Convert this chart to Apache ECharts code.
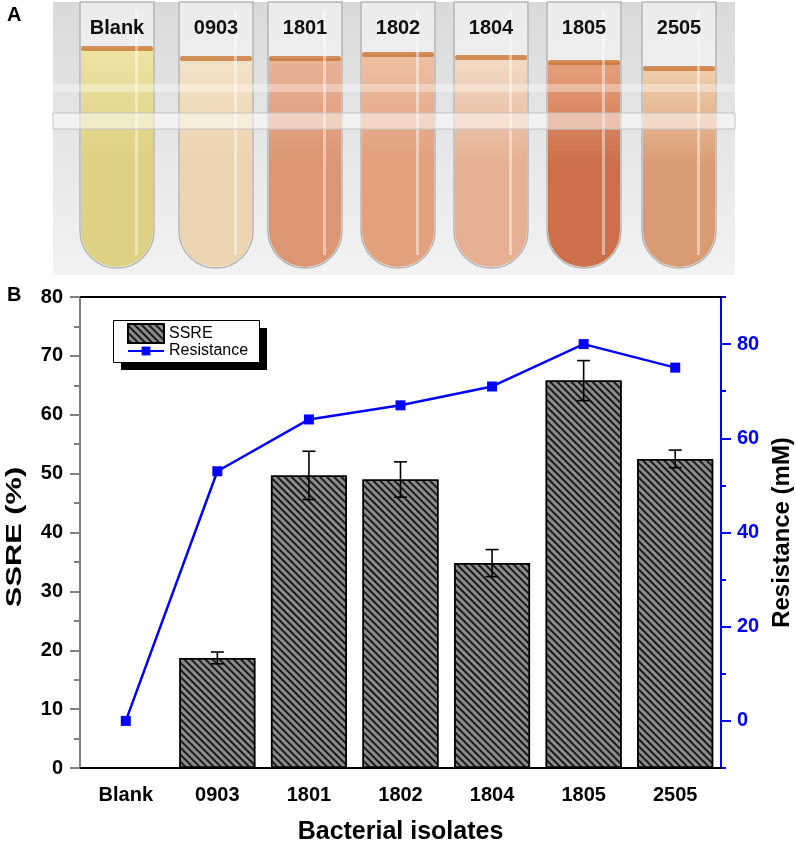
<!DOCTYPE html>
<html>
<head>
<meta charset="utf-8">
<script src="https://cdn.jsdelivr.net/npm/echarts@6/dist/echarts.min.js"></script>
<style>
html, body { margin: 0; padding: 0; background: #fff; }
#chart { width: 796px; height: 845px; }
</style>
</head>
<body>
<div id="chart"></div>
<script>
// 数据
var categories = ['Blank', '0903', '1801', '1802', '1804', '1805', '2505'];
var ssre = [null, 18.7, 49.7, 49.0, 34.8, 65.8, 52.5];
var ssreErr = [null, 1.0, 4.1, 3.0, 2.3, 3.4, 1.5];
var resistance = [0, 53, 64, 67, 71, 80, 75];
var rightTicks = [0, 20, 40, 60, 80];

var FONT = '"Liberation Sans", Arial, sans-serif';

// 试管照片 (A) 的示意
var tubes = [
    { name: 'Blank', cx: 117, top: 48, c1: '#ece3a6', c2: '#ddd283' },
    { name: '0903', cx: 216, top: 58, c1: '#f3e2c6', c2: '#ecd4b0' },
    { name: '1801', cx: 305, top: 58, c1: '#e8b396', c2: '#dc9673' },
    { name: '1802', cx: 398, top: 54, c1: '#eec0a3', c2: '#e2a07c' },
    { name: '1804', cx: 491, top: 57, c1: '#f2dcc6', c2: '#e6b193' },
    { name: '1805', cx: 584, top: 62, c1: '#e5a17c', c2: '#cc6f4a' },
    { name: '2505', cx: 679, top: 68, c1: '#f0cfae', c2: '#d99b73' }
];

function photo_graphics() {
    var g = [];
    g.push({
        type: 'rect', shape: { x: 53, y: 2, width: 682, height: 273 },
        style: { fill: { type: 'linear', x: 0, y: 0, x2: 0, y2: 1,
            colorStops: [{ offset: 0, color: '#dadada' }, { offset: 0.5, color: '#e6e6e6' }, { offset: 1, color: '#f2f2f2' }] } },
        z: 0
    });
    tubes.forEach(function(t) {
        var x = t.cx - 37, w = 74;
        g.push({ type: 'rect', shape: { x: x, y: 2, width: w, height: 266, r: [0, 0, 37, 37] },
            style: { fill: 'rgba(250,250,250,0.55)', stroke: '#b5b5b5', lineWidth: 1.5 }, z: 1 });
        g.push({ type: 'rect', shape: { x: x + 1, y: t.top, width: w - 2, height: 267 - t.top, r: [0, 0, 36, 36] },
            style: { fill: { type: 'linear', x: 0, y: 0, x2: 0, y2: 1,
                colorStops: [{ offset: 0, color: t.c1 }, { offset: 0.5, color: t.c2 }, { offset: 1, color: t.c2 }] } }, z: 2 });
        g.push({ type: 'rect', shape: { x: x + 1, y: t.top - 2, width: w - 2, height: 5, r: 2 },
            style: { fill: '#c8702e', opacity: 0.75 }, z: 3 });
        g.push({ type: 'rect', shape: { x: t.cx + 18, y: 10, width: 3, height: 245 },
            style: { fill: '#ffffff', opacity: 0.45 }, z: 3 });
        g.push({ type: 'text', style: { text: t.name, x: t.cx, y: 18, fill: '#111', font: 'bold 20px ' + FONT, align: 'center' }, z: 6 });
    });
    // 试管架
    g.push({ type: 'rect', shape: { x: 53, y: 113, width: 682, height: 16 },
        style: { fill: 'rgba(255,255,255,0.5)', stroke: '#c4c4c4', lineWidth: 1 }, z: 4 });
    g.push({ type: 'rect', shape: { x: 53, y: 84, width: 682, height: 8 },
        style: { fill: 'rgba(255,255,255,0.35)' }, z: 4 });
    g.push({ type: 'text', style: { text: 'A', x: 7, y: 5, fill: '#000', font: 'bold 20px ' + FONT }, z: 6 });
    g.push({ type: 'text', style: { text: 'B', x: 7, y: 285, fill: '#000', font: 'bold 20px ' + FONT }, z: 6 });
    // 左轴标题
    g.push({ type: 'text', x: 15, y: 537, rotation: Math.PI / 2, scaleX: 1.4,
        style: { text: 'SSRE (%)', fill: '#000', font: 'bold 22px ' + FONT, align: 'center', verticalAlign: 'middle' }, z: 6 });
    // 图例框和阴影
    g.push({ type: 'rect', shape: { x: 121, y: 328, width: 146, height: 42 }, style: { fill: '#000' }, z: 1 });
    g.push({ type: 'rect', shape: { x: 113.5, y: 320.5, width: 146, height: 42 },
        style: { fill: '#fff', stroke: '#000', lineWidth: 1 }, z: 2 });
    return g;
}

function err_item(params, api) {
    var v = api.value(1);
    if (v == null || isNaN(v)) return;
    var e = api.value(2);
    var hi = api.coord([api.value(0), v + e]);
    var lo = api.coord([api.value(0), v - e]);
    var w = 6.5;
    var st = { stroke: '#000', lineWidth: 1.6 };
    return {
        type: 'group',
        children: [
            { type: 'line', shape: { x1: hi[0], y1: hi[1], x2: lo[0], y2: lo[1] }, style: st },
            { type: 'line', shape: { x1: hi[0] - w, y1: hi[1], x2: hi[0] + w, y2: hi[1] }, style: st },
            { type: 'line', shape: { x1: lo[0] - w, y1: lo[1], x2: lo[0] + w, y2: lo[1] }, style: st }
        ]
    };
}

var labelStyle = { color: '#000', fontSize: 20, fontWeight: 'bold', fontFamily: FONT };
var blackLine = { color: '#000', width: 2 };
var grayLine = { color: '#808080', width: 2 };
var blueLine = { color: '#0000ff', width: 2 };
var legendText = { color: '#000', fontSize: 16, fontFamily: FONT };

var chart = echarts.init(document.getElementById('chart'));
var option = {
    animation: false,
    textStyle: { fontFamily: FONT },
    graphic: photo_graphics(),
    grid: { left: 80, right: 75, top: 297, bottom: 77, containLabel: false, outerBoundsMode: 'none' },
    legend: [{
        left: 127,
        top: 323,
        padding: 0,
        itemWidth: 36,
        itemHeight: 19,
        textStyle: legendText,
        data: [{ name: 'SSRE', icon: 'rect' }]
    }, {
        left: 127,
        top: 343,
        padding: 0,
        itemWidth: 36,
        itemHeight: 11,
        textStyle: legendText,
        data: ['Resistance']
    }],
    xAxis: [{
        type: 'category',
        data: categories,
        position: 'bottom',
        axisLine: { onZero: false, lineStyle: blackLine },
        axisTick: { alignWithLabel: true, interval: 0, length: 9, lineStyle: blackLine },
        axisLabel: Object.assign({ margin: 17, interval: 0 }, labelStyle),
        name: 'Bacterial isolates',
        nameLocation: 'middle',
        nameGap: 52,
        nameTextStyle: { color: '#000', fontSize: 25, fontWeight: 'bold', fontFamily: FONT }
    }, {
        type: 'category',
        data: categories,
        position: 'bottom',
        axisLine: { show: false, onZero: false },
        axisTick: { interval: 0, length: 5, lineStyle: blackLine },
        axisLabel: { show: false }
    }, {
        type: 'category',
        data: categories,
        position: 'top',
        axisLine: { onZero: false, lineStyle: blackLine },
        axisTick: { inside: true, alignWithLabel: true, interval: 0, length: 8, lineStyle: blackLine },
        axisLabel: { show: false }
    }, {
        type: 'category',
        data: categories,
        position: 'top',
        axisLine: { show: false, onZero: false },
        axisTick: { inside: true, interval: 0, length: 5, lineStyle: blackLine },
        axisLabel: { show: false }
    }],
    yAxis: [{
        type: 'value',
        min: 0,
        max: 80,
        interval: 10,
        position: 'left',
        axisLine: { show: true, lineStyle: grayLine },
        axisTick: { show: true, length: 10, lineStyle: grayLine },
        minorTick: { show: true, splitNumber: 2, length: 6, lineStyle: grayLine },
        splitLine: { show: false },
        axisLabel: Object.assign({ margin: 17 }, labelStyle)
    }, {
        type: 'value',
        min: -10,
        max: 90,
        interval: 10,
        position: 'right',
        axisLine: { show: true, lineStyle: blueLine },
        axisTick: { show: true, length: 5, lineStyle: blueLine },
        splitLine: { show: false },
        axisLabel: { show: false }
    }, {
        type: 'value',
        min: -10,
        max: 90,
        interval: 10,
        position: 'right',
        axisLine: { show: true, lineStyle: blueLine },
        axisTick: { show: true, length: 10, customValues: rightTicks, lineStyle: blueLine },
        splitLine: { show: false },
        axisLabel: { margin: 16, customValues: rightTicks, color: '#0000ff', fontSize: 20, fontWeight: 'bold', fontFamily: FONT },
        name: 'Resistance (mM)',
        nameLocation: 'middle',
        nameRotate: 90,
        nameGap: 49,
        nameTextStyle: { color: '#000', fontSize: 24, fontWeight: 'bold', fontFamily: FONT }
    }],
    series: [{
        name: 'SSRE',
        type: 'bar',
        data: ssre,
        barCategoryGap: '17%',
        itemStyle: {
            color: '#8c8c8c',
            borderColor: '#000',
            borderWidth: 1.5,
            decal: {
                symbol: 'rect',
                symbolSize: 1,
                dashArrayX: [1, 0],
                dashArrayY: [1.2, 2.8],
                rotation: Math.PI / 4,
                color: '#1a1a1a'
            }
        },
        z: 2
    }, {
        name: 'SSRE err',
        type: 'custom',
        renderItem: err_item,
        encode: { x: 0, y: 1 },
        data: categories.map(function(c, i) { return [i, ssre[i], ssreErr[i]]; }),
        z: 3
    }, {
        name: 'Resistance',
        type: 'line',
        yAxisIndex: 2,
        data: resistance,
        color: '#0000ff',
        symbol: 'rect',
        symbolSize: 10,
        lineStyle: { color: '#0000ff', width: 2.5 },
        itemStyle: { color: '#0000ff' },
        z: 4
    }]
};
chart.setOption(option);
</script>
</body>
</html>
